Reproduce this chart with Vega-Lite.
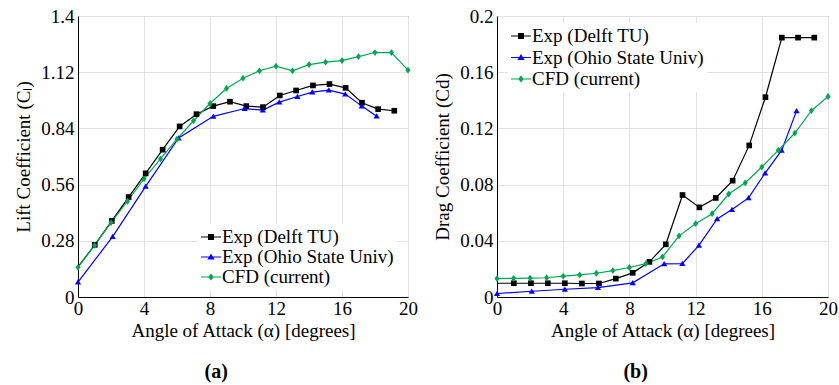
{
  "$schema": "https://vega.github.io/schema/vega-lite/v6.json",
  "background": "white",
  "padding": {"left": 14, "top": 6, "right": 0, "bottom": 0},
  "spacing": 15,
  "resolve": {"scale": {"color": "independent"}, "legend": {"color": "independent"}},
  "datasets": {
    "lift": [
      {"series": "Exp (Delft TU)", "alpha": 0, "value": 0.15},
      {"series": "Exp (Delft TU)", "alpha": 1.02, "value": 0.26},
      {"series": "Exp (Delft TU)", "alpha": 2.05, "value": 0.379},
      {"series": "Exp (Delft TU)", "alpha": 3.07, "value": 0.498},
      {"series": "Exp (Delft TU)", "alpha": 4.1, "value": 0.616},
      {"series": "Exp (Delft TU)", "alpha": 5.13, "value": 0.734},
      {"series": "Exp (Delft TU)", "alpha": 6.16, "value": 0.85},
      {"series": "Exp (Delft TU)", "alpha": 7.18, "value": 0.911},
      {"series": "Exp (Delft TU)", "alpha": 8.2, "value": 0.951},
      {"series": "Exp (Delft TU)", "alpha": 9.21, "value": 0.973},
      {"series": "Exp (Delft TU)", "alpha": 10.2, "value": 0.951},
      {"series": "Exp (Delft TU)", "alpha": 11.21, "value": 0.946},
      {"series": "Exp (Delft TU)", "alpha": 12.23, "value": 1.004},
      {"series": "Exp (Delft TU)", "alpha": 13.22, "value": 1.029},
      {"series": "Exp (Delft TU)", "alpha": 14.24, "value": 1.054},
      {"series": "Exp (Delft TU)", "alpha": 15.24, "value": 1.061},
      {"series": "Exp (Delft TU)", "alpha": 16.22, "value": 1.042},
      {"series": "Exp (Delft TU)", "alpha": 17.21, "value": 0.968},
      {"series": "Exp (Delft TU)", "alpha": 18.19, "value": 0.936},
      {"series": "Exp (Delft TU)", "alpha": 19.17, "value": 0.928},
      {"series": "Exp (Ohio State Univ)", "alpha": 0, "value": 0.074},
      {"series": "Exp (Ohio State Univ)", "alpha": 2.1, "value": 0.301},
      {"series": "Exp (Ohio State Univ)", "alpha": 4.1, "value": 0.551},
      {"series": "Exp (Ohio State Univ)", "alpha": 6.1, "value": 0.792},
      {"series": "Exp (Ohio State Univ)", "alpha": 8.2, "value": 0.9},
      {"series": "Exp (Ohio State Univ)", "alpha": 10.1, "value": 0.939},
      {"series": "Exp (Ohio State Univ)", "alpha": 11.2, "value": 0.931},
      {"series": "Exp (Ohio State Univ)", "alpha": 12.2, "value": 0.971},
      {"series": "Exp (Ohio State Univ)", "alpha": 13.3, "value": 0.999},
      {"series": "Exp (Ohio State Univ)", "alpha": 14.2, "value": 1.021},
      {"series": "Exp (Ohio State Univ)", "alpha": 15.2, "value": 1.031},
      {"series": "Exp (Ohio State Univ)", "alpha": 16.2, "value": 1.011},
      {"series": "Exp (Ohio State Univ)", "alpha": 17.2, "value": 0.951},
      {"series": "Exp (Ohio State Univ)", "alpha": 18.1, "value": 0.901},
      {"series": "CFD (current)", "alpha": 0, "value": 0.148},
      {"series": "CFD (current)", "alpha": 1, "value": 0.257},
      {"series": "CFD (current)", "alpha": 2, "value": 0.371},
      {"series": "CFD (current)", "alpha": 3, "value": 0.477},
      {"series": "CFD (current)", "alpha": 4, "value": 0.588},
      {"series": "CFD (current)", "alpha": 5, "value": 0.688},
      {"series": "CFD (current)", "alpha": 6, "value": 0.787},
      {"series": "CFD (current)", "alpha": 7, "value": 0.878},
      {"series": "CFD (current)", "alpha": 8, "value": 0.964},
      {"series": "CFD (current)", "alpha": 9, "value": 1.039},
      {"series": "CFD (current)", "alpha": 10, "value": 1.09},
      {"series": "CFD (current)", "alpha": 11, "value": 1.127},
      {"series": "CFD (current)", "alpha": 12, "value": 1.15},
      {"series": "CFD (current)", "alpha": 13, "value": 1.127},
      {"series": "CFD (current)", "alpha": 14, "value": 1.158},
      {"series": "CFD (current)", "alpha": 15, "value": 1.17},
      {"series": "CFD (current)", "alpha": 16, "value": 1.178},
      {"series": "CFD (current)", "alpha": 17, "value": 1.198},
      {"series": "CFD (current)", "alpha": 18, "value": 1.218},
      {"series": "CFD (current)", "alpha": 19, "value": 1.218},
      {"series": "CFD (current)", "alpha": 20, "value": 1.13}
    ],
    "drag": [
      {"series": "Exp (Delft TU)", "alpha": 0, "value": 0.0098},
      {"series": "Exp (Delft TU)", "alpha": 1.02, "value": 0.0098},
      {"series": "Exp (Delft TU)", "alpha": 2.05, "value": 0.0098},
      {"series": "Exp (Delft TU)", "alpha": 3.07, "value": 0.0098},
      {"series": "Exp (Delft TU)", "alpha": 4.1, "value": 0.0098},
      {"series": "Exp (Delft TU)", "alpha": 5.13, "value": 0.0096},
      {"series": "Exp (Delft TU)", "alpha": 6.16, "value": 0.0096},
      {"series": "Exp (Delft TU)", "alpha": 7.18, "value": 0.0131},
      {"series": "Exp (Delft TU)", "alpha": 8.2, "value": 0.0172},
      {"series": "Exp (Delft TU)", "alpha": 9.21, "value": 0.025},
      {"series": "Exp (Delft TU)", "alpha": 10.2, "value": 0.0375},
      {"series": "Exp (Delft TU)", "alpha": 11.21, "value": 0.0726},
      {"series": "Exp (Delft TU)", "alpha": 12.23, "value": 0.0638},
      {"series": "Exp (Delft TU)", "alpha": 13.22, "value": 0.0705},
      {"series": "Exp (Delft TU)", "alpha": 14.24, "value": 0.0828},
      {"series": "Exp (Delft TU)", "alpha": 15.24, "value": 0.1079},
      {"series": "Exp (Delft TU)", "alpha": 16.22, "value": 0.1422},
      {"series": "Exp (Delft TU)", "alpha": 17.21, "value": 0.1846},
      {"series": "Exp (Delft TU)", "alpha": 18.19, "value": 0.1846},
      {"series": "Exp (Delft TU)", "alpha": 19.17, "value": 0.1846},
      {"series": "Exp (Ohio State Univ)", "alpha": 0, "value": 0.0025},
      {"series": "Exp (Ohio State Univ)", "alpha": 2.1, "value": 0.0041},
      {"series": "Exp (Ohio State Univ)", "alpha": 4.1, "value": 0.0055},
      {"series": "Exp (Ohio State Univ)", "alpha": 6.1, "value": 0.0067},
      {"series": "Exp (Ohio State Univ)", "alpha": 8.2, "value": 0.0101},
      {"series": "Exp (Ohio State Univ)", "alpha": 10.1, "value": 0.0236},
      {"series": "Exp (Ohio State Univ)", "alpha": 11.2, "value": 0.0238},
      {"series": "Exp (Ohio State Univ)", "alpha": 12.2, "value": 0.0368},
      {"series": "Exp (Ohio State Univ)", "alpha": 13.3, "value": 0.0556},
      {"series": "Exp (Ohio State Univ)", "alpha": 14.2, "value": 0.0622},
      {"series": "Exp (Ohio State Univ)", "alpha": 15.2, "value": 0.0705},
      {"series": "Exp (Ohio State Univ)", "alpha": 16.2, "value": 0.0882},
      {"series": "Exp (Ohio State Univ)", "alpha": 17.2, "value": 0.1043},
      {"series": "Exp (Ohio State Univ)", "alpha": 18.1, "value": 0.1325},
      {"series": "CFD (current)", "alpha": 0, "value": 0.0131},
      {"series": "CFD (current)", "alpha": 1, "value": 0.0133},
      {"series": "CFD (current)", "alpha": 2, "value": 0.0135},
      {"series": "CFD (current)", "alpha": 3, "value": 0.0137},
      {"series": "CFD (current)", "alpha": 4, "value": 0.0148},
      {"series": "CFD (current)", "alpha": 5, "value": 0.0157},
      {"series": "CFD (current)", "alpha": 6, "value": 0.0169},
      {"series": "CFD (current)", "alpha": 7, "value": 0.0188},
      {"series": "CFD (current)", "alpha": 8, "value": 0.021},
      {"series": "CFD (current)", "alpha": 9, "value": 0.0238},
      {"series": "CFD (current)", "alpha": 10, "value": 0.0285},
      {"series": "CFD (current)", "alpha": 11, "value": 0.0435},
      {"series": "CFD (current)", "alpha": 12, "value": 0.0522},
      {"series": "CFD (current)", "alpha": 13, "value": 0.0593},
      {"series": "CFD (current)", "alpha": 14, "value": 0.0733},
      {"series": "CFD (current)", "alpha": 15, "value": 0.0813},
      {"series": "CFD (current)", "alpha": 16, "value": 0.0925},
      {"series": "CFD (current)", "alpha": 17, "value": 0.1045},
      {"series": "CFD (current)", "alpha": 18, "value": 0.1167},
      {"series": "CFD (current)", "alpha": 19, "value": 0.1327},
      {"series": "CFD (current)", "alpha": 20, "value": 0.1427}
    ]
  },
  "config": {
    "font": "Liberation Serif",
    "view": {"stroke": "#555555", "strokeWidth": 1},
    "axis": {
      "labelFont": "Liberation Serif", "labelFontSize": 19, "labelColor": "black",
      "titleFont": "Liberation Serif", "titleFontSize": 19, "titleFontWeight": "normal", "titleColor": "black",
      "domainColor": "black", "domainWidth": 1,
      "gridColor": "#e2e2e2", "gridWidth": 1,
      "ticks": false, "tickSize": 0,
      "labelFlush": false, "labelOverlap": false, "labelBound": false
    },
    "axisX": {"labelPadding": 2, "titlePadding": 3},
    "axisY": {"labelPadding": 4, "titlePadding": 7},
    "legend": {"labelFont": "Liberation Serif", "labelFontSize": 19, "labelColor": "black", "labelLimit": 0}
  },
  "hconcat": [
    {
      "width": 330,
      "height": 281,
      "title": {"text": "(a)", "orient": "bottom", "frame": "bounds", "anchor": "middle", "font": "Liberation Serif", "fontSize": 20, "fontWeight": "bold", "color": "black", "offset": 22},
      "data": {"name": "lift"},
      "encoding": {
        "x": {"field": "alpha", "type": "quantitative", "scale": {"domain": [0, 20], "nice": false}, "axis": {"values": [0, 4, 8, 12, 16, 20], "title": "Angle of Attack (α) [degrees]"}},
        "y": {"field": "value", "type": "quantitative", "scale": {"domain": [0, 1.4], "nice": false}, "axis": {"values": [0, 0.28, 0.56, 0.84, 1.12, 1.4], "format": ".2~f", "title": "Lift Coefficient (Cₗ)"}},
        "color": {
          "field": "series", "type": "nominal",
          "scale": {"domain": ["Exp (Delft TU)", "Exp (Ohio State Univ)", "CFD (current)"], "range": ["#000000", "#0000ff", "#00a651"]},
          "legend": {
            "orient": "none", "legendX": 120, "legendY": 208, "title": null, "padding": 3, "fillColor": "white",
            "symbolSize": 400, "labelOffset": 1, "rowPadding": 0,
            "encode": {"symbols": {"update": {
              "shape": {"signal": "datum.value === 'Exp (Delft TU)' ? 'M-1,-0.06L1,-0.06L1,0.06L-1,0.06Z M-0.3,-0.3L0.3,-0.3L0.3,0.3L-0.3,0.3Z' : datum.value === 'Exp (Ohio State Univ)' ? 'M-1,-0.06L1,-0.06L1,0.06L-1,0.06Z M0,-0.34L0.36,0.26L-0.36,0.26Z' : 'M-1,-0.06L1,-0.06L1,0.06L-1,0.06Z M0,-0.36L0.28,0L0,0.36L-0.28,0Z'"},
              "fill": {"signal": "datum.value === 'Exp (Delft TU)' ? '#000000' : datum.value === 'Exp (Ohio State Univ)' ? '#0000ff' : '#00a651'"},
              "strokeWidth": {"value": 0},
              "opacity": {"value": 1}
            }}}
          }
        }
      },
      "layer": [
        {"mark": {"type": "line", "strokeWidth": 1.2}},
        {
          "transform": [{"filter": "datum.series === 'Exp (Delft TU)' && datum.alpha > 0"}],
          "mark": {"type": "point", "filled": true, "size": 32, "opacity": 1, "shape": "square"}
        },
        {
          "transform": [{"filter": "datum.series === 'Exp (Ohio State Univ)'"}],
          "mark": {"type": "point", "filled": true, "size": 32, "opacity": 1, "shape": "M0,-1L1.1,0.85L-1.1,0.85Z"}
        },
        {
          "transform": [{"filter": "datum.series === 'CFD (current)'"}],
          "mark": {"type": "point", "filled": true, "size": 32, "opacity": 1, "shape": "M0,-1.2L0.9,0L0,1.2L-0.9,0Z"}
        }
      ]
    },
    {
      "width": 331,
      "height": 281,
      "title": {"text": "(b)", "orient": "bottom", "frame": "bounds", "anchor": "middle", "font": "Liberation Serif", "fontSize": 20, "fontWeight": "bold", "color": "black", "offset": 22},
      "data": {"name": "drag"},
      "encoding": {
        "x": {"field": "alpha", "type": "quantitative", "scale": {"domain": [0, 20], "nice": false}, "axis": {"values": [0, 4, 8, 12, 16, 20], "title": "Angle of Attack (α) [degrees]"}},
        "y": {"field": "value", "type": "quantitative", "scale": {"domain": [0, 0.2], "nice": false}, "axis": {"values": [0, 0.04, 0.08, 0.12, 0.16, 0.2], "format": ".2~f", "title": "Drag Coefficient (Cd)"}},
        "color": {
          "field": "series", "type": "nominal",
          "scale": {"domain": ["Exp (Delft TU)", "Exp (Ohio State Univ)", "CFD (current)"], "range": ["#000000", "#0000ff", "#00a651"]},
          "legend": {
            "orient": "none", "legendX": 11, "legendY": 7, "title": null, "padding": 3, "fillColor": "white",
            "symbolSize": 400, "labelOffset": 1, "rowPadding": 1.5,
            "encode": {"symbols": {"update": {
              "shape": {"signal": "datum.value === 'Exp (Delft TU)' ? 'M-1,-0.06L1,-0.06L1,0.06L-1,0.06Z M-0.3,-0.3L0.3,-0.3L0.3,0.3L-0.3,0.3Z' : datum.value === 'Exp (Ohio State Univ)' ? 'M-1,-0.06L1,-0.06L1,0.06L-1,0.06Z M0,-0.34L0.36,0.26L-0.36,0.26Z' : 'M-1,-0.06L1,-0.06L1,0.06L-1,0.06Z M0,-0.36L0.28,0L0,0.36L-0.28,0Z'"},
              "fill": {"signal": "datum.value === 'Exp (Delft TU)' ? '#000000' : datum.value === 'Exp (Ohio State Univ)' ? '#0000ff' : '#00a651'"},
              "strokeWidth": {"value": 0},
              "opacity": {"value": 1}
            }}}
          }
        }
      },
      "layer": [
        {"mark": {"type": "line", "strokeWidth": 1.2}},
        {
          "transform": [{"filter": "datum.series === 'Exp (Delft TU)' && datum.alpha > 0"}],
          "mark": {"type": "point", "filled": true, "size": 32, "opacity": 1, "shape": "square"}
        },
        {
          "transform": [{"filter": "datum.series === 'Exp (Ohio State Univ)'"}],
          "mark": {"type": "point", "filled": true, "size": 32, "opacity": 1, "shape": "M0,-1L1.1,0.85L-1.1,0.85Z"}
        },
        {
          "transform": [{"filter": "datum.series === 'CFD (current)'"}],
          "mark": {"type": "point", "filled": true, "size": 32, "opacity": 1, "shape": "M0,-1.2L0.9,0L0,1.2L-0.9,0Z"}
        }
      ]
    }
  ]
}
